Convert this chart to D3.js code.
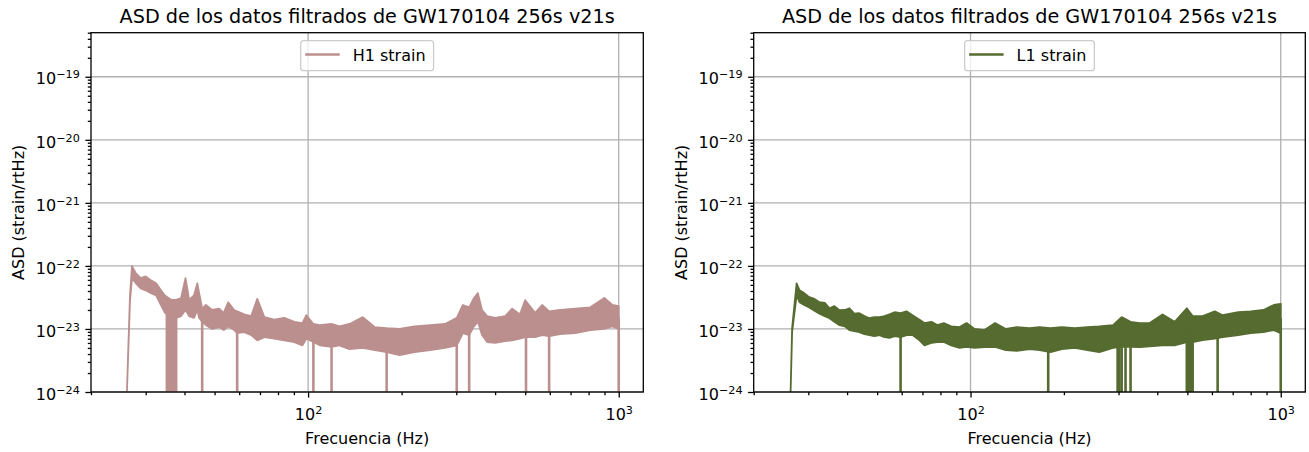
<!DOCTYPE html>
<html>
<head>
<meta charset="utf-8">
<script src="https://cdn.jsdelivr.net/npm/d3@7"></script>
<style>
  body { margin: 0; background: #fff; }
  svg { font-family: "DejaVu Sans", sans-serif; }
</style>
</head>
<body>
<svg id="chart" width="1309" height="452"></svg>
<script>
// values (Hz, strain/rtHz)
const h1Freq = [26.1, 26.7, 27.1, 27.9, 28.9, 30.0, 31.2, 32.4, 33.6, 34.6, 36.2, 37.6, 39.0, 40.3, 41.4, 42.9, 44.0, 44.6, 45.6, 46.9,
  49.1, 51.7, 53.5, 55.3, 57.8, 59.1, 62.3, 65.6, 68.6, 72.3, 77.8, 83.8, 90.3, 95.9, 98.7, 104, 109, 119, 126, 136,
  150, 164, 179, 197, 220, 247, 276, 301, 315, 330, 342, 352, 363, 377, 400, 431, 454, 481, 500, 538,
  567, 597, 648, 725, 810, 899, 954, 1000]
const h1Hi = [1e-24, 3.4e-23, 9.9e-23, 7.6e-23, 6.4e-23, 6.8e-23, 5.9e-23, 5.3e-23, 4.1e-23, 3.4e-23, 2.9e-23, 2.9e-23, 3.1e-23, 6.4e-23, 2.9e-23, 3.4e-23, 5.3e-23, 3.7e-23, 2.1e-23, 2.4e-23,
  2.0e-23, 2.1e-23, 1.8e-23, 2.65e-23, 2.0e-23, 1.9e-23, 1.7e-23, 1.6e-23, 3.0e-23, 1.54e-23, 1.4e-23, 1.5e-23, 1.3e-23, 1.24e-23, 1.65e-23, 1.2e-23, 1.15e-23, 1.2e-23, 1.1e-23, 1.2e-23,
  1.54e-23, 1.07e-23, 1.03e-23, 1.0e-23, 1.1e-23, 1.15e-23, 1.2e-23, 1.5e-23, 2.4e-23, 2.2e-23, 3.1e-23, 3.7e-23, 2.0e-23, 1.6e-23, 1.5e-23, 1.6e-23, 2.1e-23, 1.7e-23, 2.86e-23, 1.8e-23,
  2.4e-23, 1.9e-23, 2.0e-23, 2.1e-23, 2.2e-23, 3.1e-23, 2.4e-23, 2.3e-23]
const h1Lo = [1e-24, 2.7e-23, 6.4e-23, 5.3e-23, 4.4e-23, 4.1e-23, 3.7e-23, 3.4e-23, 2.4e-23, 1.8e-23, 1.5e-23, 1.5e-23, 1.6e-23, 2.0e-23, 1.6e-23, 1.5e-23, 2.0e-23, 1.5e-23, 1.3e-23, 1.15e-23,
  1.0e-23, 1.07e-23, 9.6e-24, 1.1e-23, 9.6e-24, 8.6e-24, 8.9e-24, 8.0e-24, 6.6e-24, 7.4e-24, 7.0e-24, 6.6e-24, 6.2e-24, 5.5e-24, 7.0e-24, 6.2e-24, 5.5e-24, 5.2e-24, 5.5e-24, 4.8e-24,
  5.0e-24, 4.6e-24, 4.3e-24, 3.85e-24, 4.3e-24, 4.6e-24, 5.0e-24, 5.5e-24, 8.6e-24, 8.0e-24, 1.1e-23, 1.3e-23, 8.0e-24, 6.2e-24, 6.0e-24, 6.4e-24, 6.6e-24, 7.0e-24, 7.4e-24, 7.4e-24,
  8.0e-24, 7.7e-24, 8.3e-24, 8.6e-24, 9.6e-24, 1.0e-23, 1.1e-23, 1.0e-23]
const h1Dips = [35.1, 35.6, 36.1, 36.6, 37.1, 37.6, 45.6, 59.1, 104, 119, 179, 301, 330, 503, 597, 1000]

const l1Freq = [26.3, 26.6, 27.5, 28.1, 29.1, 30.2, 31.4, 32.6, 33.9, 35.1, 36.4, 37.8, 39.3, 40.7, 42.2, 43.8, 45.5, 47.2, 49.0, 50.9,
  52.8, 54.8, 56.9, 59.5, 62.2, 65.0, 68.5, 71.0, 74.8, 78.2, 82.0, 86.6, 92.2, 97.1, 103, 111, 120, 130, 141, 155,
  167, 181, 197, 217, 238, 260, 288, 307, 328, 351, 378, 416, 455, 498, 520, 560, 613, 650, 730, 800,
  880, 950, 1000]
const l1Hi = [1e-24, 1.03e-23, 5.3e-23, 4.1e-23, 3.7e-23, 3.2e-23, 3.0e-23, 2.65e-23, 2.6e-23, 2.13e-23, 2.3e-23, 1.98e-23, 2.0e-23, 2.13e-23, 1.75e-23, 1.78e-23, 1.6e-23, 1.48e-23, 1.54e-23, 1.54e-23,
  1.6e-23, 1.7e-23, 1.84e-23, 1.78e-23, 1.9e-23, 1.65e-23, 1.4e-23, 1.24e-23, 1.3e-23, 1.15e-23, 1.24e-23, 1.1e-23, 1.07e-23, 1.24e-23, 1.0e-23, 9.6e-24, 1.24e-23, 1.0e-23, 1.07e-23, 1.03e-23,
  1.07e-23, 1.03e-23, 1.07e-23, 1.03e-23, 1.07e-23, 1.1e-23, 1.15e-23, 1.54e-23, 1.3e-23, 1.24e-23, 1.24e-23, 1.7e-23, 1.3e-23, 2.13e-23, 1.6e-23, 1.6e-23, 1.9e-23, 1.65e-23, 1.84e-23, 1.9e-23,
  2.0e-23, 2.4e-23, 2.5e-23]
const l1Lo = [1e-24, 9.0e-24, 3.4e-23, 2.65e-23, 2.4e-23, 2.2e-23, 1.95e-23, 1.75e-23, 1.6e-23, 1.48e-23, 1.3e-23, 1.15e-23, 1.1e-23, 9.6e-24, 9.2e-24, 8.9e-24, 8.3e-24, 8.0e-24, 7.7e-24, 8.0e-24,
  7.4e-24, 7.2e-24, 7.7e-24, 7.4e-24, 8.0e-24, 8.0e-24, 6.6e-24, 5.5e-24, 6.0e-24, 6.2e-24, 6.2e-24, 5.5e-24, 5.0e-24, 5.2e-24, 5.0e-24, 5.15e-24, 5.2e-24, 4.6e-24, 4.5e-24, 4.8e-24,
  4.6e-24, 4.3e-24, 4.8e-24, 5.0e-24, 4.6e-24, 4.3e-24, 5.0e-24, 5.2e-24, 5.2e-24, 5.15e-24, 5.3e-24, 5.5e-24, 5.5e-24, 6.2e-24, 6.2e-24, 6.65e-24, 7.0e-24, 7.4e-24, 8.0e-24, 8.6e-24,
  8.9e-24, 9.6e-24, 8.6e-24]
const l1Dips = [59.5, 178, 298, 302, 307, 316, 328, 498, 504, 509, 515, 520, 626, 1000]

const xMajor = [100, 1000]
const yMajor = [1e-24, 1e-23, 1e-22, 1e-21, 1e-20, 1e-19]
const title = "ASD de los datos filtrados de GW170104 256s v21s"

const svg = d3.select("#chart")
const plotTop = 32.7, plotBottom = 392
const fs = 16      // 10pt text
const lw = 1.3     // 0.8pt lines

const panels = [
  {id: "h1", label: "H1 strain", color: "#bc8f8f", freq: h1Freq, hi: h1Hi, lo: h1Lo, dips: h1Dips, left: 91, right: 643.3},
  {id: "l1", label: "L1 strain", color: "#556b2f", freq: l1Freq, hi: l1Hi, lo: l1Lo, dips: l1Dips, left: 753.7, right: 1305.3}
]

// superscript label like matplotlib mathtext
function powLabel(sel, v) {
  const e = Math.round(Math.log10(v))
  sel.text(null)
  sel.append("tspan").text("10")
  sel.append("tspan")
    .attr("font-size", "11.2px")
    .attr("dy", "-6")
    .text(e < 0 ? "\u2212" + (-e) : String(e))
}

panels.forEach(function(p) {
  const x = d3.scaleLog().domain([20, 1200]).range([p.left, p.right])
  const y = d3.scaleLog().domain([1e-24, 5e-19]).range([plotBottom, plotTop])
  const g = svg.append("g")

  // grid
  g.selectAll("line.gx").data(xMajor).enter().append("line")
    .attr("x1", d => x(d)).attr("x2", d => x(d))
    .attr("y1", plotTop).attr("y2", plotBottom)
    .attr("stroke", "#b0b0b0").attr("stroke-width", lw)
  g.selectAll("line.gy").data(yMajor).enter().append("line")
    .attr("x1", p.left).attr("x2", p.right)
    .attr("y1", d => y(d)).attr("y2", d => y(d))
    .attr("stroke", "#b0b0b0").attr("stroke-width", lw)

  svg.append("clipPath").attr("id", "clip-" + p.id)
    .append("rect").attr("x", p.left).attr("y", plotTop)
    .attr("width", p.right - p.left).attr("height", plotBottom - plotTop)

  const data = p.freq.map((f, i) => ({f: f, hi: p.hi[i], lo: p.lo[i]}))
  const plot = g.append("g").attr("clip-path", "url(#clip-" + p.id + ")")

  const area = d3.area()
    .x(d => x(d.f))
    .y0(d => y(d.lo))
    .y1(d => y(d.hi))
  plot.append("path").datum(data)
    .attr("d", area)
    .attr("fill", p.color)
    .attr("stroke", p.color)
    .attr("stroke-width", 1.8)
    .attr("stroke-linejoin", "round")

  // narrow drops to the bottom of the axes
  const bis = d3.bisector(d => d.f).center
  plot.selectAll("line.dip").data(p.dips).enter().append("line")
    .attr("x1", d => x(d)).attr("x2", d => x(d))
    .attr("y1", function(d) { const r = data[bis(data, d)]; return y(Math.sqrt(r.hi * r.lo)) })
    .attr("y2", plotBottom + 5)
    .attr("stroke", p.color)
    .attr("stroke-width", 2.6)

  // axes
  const minorX = x.ticks().filter(d => xMajor.indexOf(d) < 0)
  const minorY = y.ticks().filter(d => !yMajor.some(m => Math.abs(m - d) / m < 1e-6))

  const ax = g.append("g").attr("transform", "translate(0," + plotBottom + ")")
    .call(d3.axisBottom(x).tickValues(xMajor).tickSize(5.6).tickPadding(5.6).tickSizeOuter(0))
  ax.select(".domain").remove()
  ax.selectAll(".tick text").attr("font-size", fs + "px").attr("fill", "#000").attr("font-family", "DejaVu Sans")
    .each(function(d) { powLabel(d3.select(this), d) })
  ax.selectAll(".tick text").attr("dy", "1.05em")
  const axm = g.append("g").attr("transform", "translate(0," + plotBottom + ")")
    .call(d3.axisBottom(x).tickValues(minorX).tickSize(3.2).tickFormat("").tickSizeOuter(0))
  axm.select(".domain").remove()

  const ay = g.append("g").attr("transform", "translate(" + p.left + ",0)")
    .call(d3.axisLeft(y).tickValues(yMajor).tickSize(5.6).tickPadding(5.6).tickSizeOuter(0))
  ay.select(".domain").remove()
  ay.selectAll(".tick text").attr("font-size", fs + "px").attr("fill", "#000").attr("font-family", "DejaVu Sans")
    .each(function(d) { powLabel(d3.select(this), d) })
  ay.selectAll(".tick text").attr("dy", "0.45em")
  const aym = g.append("g").attr("transform", "translate(" + p.left + ",0)")
    .call(d3.axisLeft(y).tickValues(minorY).tickSize(3.2).tickFormat("").tickSizeOuter(0))
  aym.select(".domain").remove()
  g.selectAll(".tick line").attr("stroke", "#000").attr("stroke-width", lw)

  // spines
  g.append("rect")
    .attr("x", p.left).attr("y", plotTop)
    .attr("width", p.right - p.left).attr("height", plotBottom - plotTop)
    .attr("fill", "none").attr("stroke", "#000").attr("stroke-width", lw)

  const cx = (p.left + p.right) / 2
  g.append("text").attr("x", cx).attr("y", 23)
    .attr("text-anchor", "middle").attr("font-size", "19.2px")
    .text(title)
  g.append("text").attr("x", cx).attr("y", 444)
    .attr("text-anchor", "middle").attr("font-size", fs + "px")
    .text("Frecuencia (Hz)")
  g.append("text")
    .attr("transform", "translate(" + (p.left - 67) + "," + ((plotTop + plotBottom) / 2) + ") rotate(-90)")
    .attr("text-anchor", "middle").attr("font-size", fs + "px")
    .text("ASD (strain/rtHz)")

  // legend
  const lg = g.append("g")
  const box = lg.append("rect").attr("y", 40.7).attr("height", 30).attr("rx", 3)
    .attr("fill", "#fff").attr("fill-opacity", 0.8)
    .attr("stroke", "#cccccc").attr("stroke-width", lw)
  const txt = lg.append("text").attr("y", 61).attr("font-size", fs + "px").text(p.label)
  const tw = txt.node().getComputedTextLength()
  const bw = 52 + tw + 8
  const bx = cx - bw / 2
  box.attr("x", bx).attr("width", bw)
  txt.attr("x", bx + 52)
  lg.append("line")
    .attr("x1", bx + 4.5).attr("x2", bx + 39)
    .attr("y1", 54.5).attr("y2", 54.5)
    .attr("stroke", p.color).attr("stroke-width", 2.4)
})
</script>
</body>
</html>
